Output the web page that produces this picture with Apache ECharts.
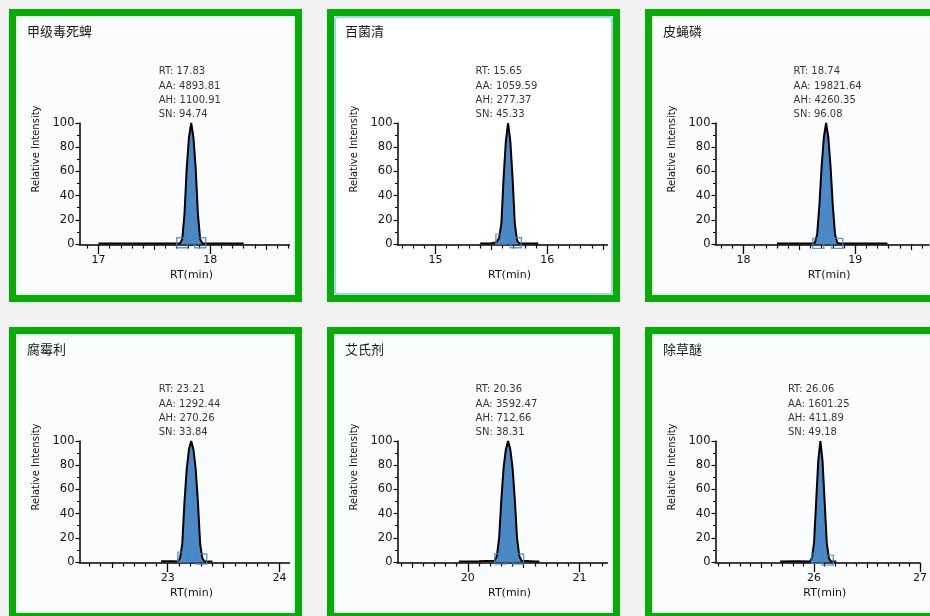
<!DOCTYPE html>
<html><head><meta charset="utf-8">
<script src="https://cdn.jsdelivr.net/npm/echarts@6/dist/echarts.min.js"></script>
<style>html,body{margin:0;padding:0;background:#f2f2f2}#c{width:930px;height:616px}</style>
</head><body><div id="c"></div>
<script>
// ---- data ----
const titles = ['甲级毒死蜱', '百菌清', '皮蝇磷', '腐霉利', '艾氏剂', '除草醚'];
const rtValues = [17.83, 15.65, 18.74, 23.21, 20.36, 26.06];
const aaValues = ['4893.81', '1059.59', '19821.64', '1292.44', '3592.47', '1601.25'];
const ahValues = ['1100.91', '277.37', '4260.35', '270.26', '712.66', '411.89'];
const snValues = ['94.74', '45.33', '96.08', '33.84', '38.31', '49.18'];
const xMin = [16.83, 14.66, 17.75, 22.21, 19.37, 25.07];
const xMax = [18.71, 16.54, 19.66, 24.09, 21.25, 27.0];
const majorTicks = [[17, 18], [15, 16], [18, 19], [23, 24], [20, 21], [26, 27]];
const yTickValues = [0, 20, 40, 60, 80, 100];

const trace1Times = [17.00, 17.40, 17.70, 17.73, 17.75, 17.77, 17.79, 17.81, 17.83, 17.85, 17.87, 17.89, 17.91, 17.93, 17.96, 18.10, 18.30];
const trace1Values = [0.4, 0.5, 0.4, 0.5, 4, 25, 63, 88, 100, 88, 63, 25, 4, 0.5, 0.5, 0.4, 0.4];
const trace2Times = [15.40, 15.50, 15.53, 15.55, 15.57, 15.59, 15.61, 15.63, 15.65, 15.67, 15.69, 15.71, 15.73, 15.75, 15.80, 15.92];
const trace2Values = [0.5, 0.6, 1, 2, 5, 17, 55, 85, 100, 85, 55, 17, 3, 0.5, 0.5, 0.5];
const trace3Times = [18.30, 18.50, 18.62, 18.64, 18.66, 18.68, 18.70, 18.72, 18.74, 18.76, 18.78, 18.80, 18.82, 18.84, 18.86, 19.00, 19.29];
const trace3Values = [0.4, 0.5, 0.5, 1, 8, 32, 64, 88, 100, 88, 64, 32, 8, 1, 0.5, 0.5, 0.4];
const trace4Times = [22.94, 23.05, 23.09, 23.11, 23.13, 23.15, 23.17, 23.19, 23.21, 23.23, 23.25, 23.27, 23.29, 23.31, 23.33, 23.40];
const trace4Values = [0.6, 0.6, 0.5, 3, 15, 50, 77, 93, 100, 93, 77, 50, 15, 3, 0.5, 0.5];
const trace5Times = [19.92, 20.10, 20.24, 20.26, 20.28, 20.30, 20.32, 20.34, 20.36, 20.38, 20.40, 20.42, 20.44, 20.46, 20.48, 20.60, 20.64];
const trace5Values = [0.5, 0.6, 1, 5, 20, 52, 78, 93, 100, 93, 78, 52, 20, 5, 1, 0.5, 0.5];
const trace6Times = [25.68, 25.85, 25.96, 25.98, 26.00, 26.02, 26.04, 26.06, 26.08, 26.10, 26.12, 26.14, 26.16, 26.21];
const trace6Values = [0.5, 0.6, 0.5, 3, 16, 50, 84, 100, 84, 50, 16, 3, 0.5, 0.5];

const bound1 = [[17.75, 1], [17.91, 1]];
const bound2 = [[15.59, 4], [15.72, 1]];
const bound3 = [[18.67, 0.5], [18.84, 0.5]];
const bound4 = [[23.14, 4], [23.30, 2.5]];
const bound5 = [[20.29, 2.5], [20.45, 2.5]];
const bound6 = [[26.03, 3], [26.13, 1.5]];

const traceTimes = [trace1Times, trace2Times, trace3Times, trace4Times, trace5Times, trace6Times];
const traceValues = [trace1Values, trace2Values, trace3Values, trace4Values, trace5Values, trace6Values];
const bounds = [bound1, bound2, bound3, bound4, bound5, bound6];

// ---- layout ----
const panelX = [9, 327, 645, 9, 327, 645];
const panelY = [9, 9, 9, 327, 327, 327];
const panelSize = 293;
const pxPerMin = 111.7;
const FONT = 'DejaVu Sans';
const TXT = '#111';

function ticksBetween(lo, hi, step, skipStep) {
  const out = [];
  const start = Math.ceil(lo / step - 1e-6);
  for (let k = start; k * step <= hi + 1e-6; k++) {
    const v = Math.round(k * step * 100) / 100;
    if (skipStep && Math.abs(v / skipStep - Math.round(v / skipStep)) < 1e-6) continue;
    out.push(v);
  }
  return out;
}

const grids = [], xAxes = [], yAxes = [], series = [], graphics = [];
for (let i = 0; i < 6; i++) {
  const x0 = panelX[i], y0 = panelY[i];
  graphics.push({ type: 'rect', z: -20, shape: { x: x0 + 3.5, y: y0 + 3.5, width: panelSize - 7, height: panelSize - 7 },
    style: { fill: 'none', stroke: '#03ad03', lineWidth: 7 } });
  if (i === 1) {
    graphics.push({ type: 'rect', z: -19, shape: { x: x0 + 8, y: y0 + 8, width: panelSize - 16, height: panelSize - 16, r: 3 },
      style: { fill: '#ffffff', stroke: '#a6cff2', lineWidth: 2 } });
  } else {
    graphics.push({ type: 'rect', z: -19, shape: { x: x0 + 8, y: y0 + 8, width: panelSize - 16, height: panelSize - 16 },
      style: { fill: '#fbfcfd', stroke: '#eceef2', lineWidth: 2 } });
  }
  graphics.push({ type: 'text', z: 10, x: x0 + 18, y: y0 + 22,
    style: { text: titles[i], fill: '#1a1a1a', font: '13px "Noto Sans CJK SC"', textVerticalAlign: 'middle' } });

  grids.push({ left: x0 + 70.5, top: y0 + 114, width: (xMax[i] - xMin[i]) * pxPerMin, height: 121 });

  const base = { gridIndex: i, type: 'value', position: 'bottom', min: xMin[i], max: xMax[i], offset: 1,
    splitLine: { show: false }, axisLabel: { show: false } };
  xAxes.push(Object.assign({}, base, {
    axisLine: { show: true, onZero: false, lineStyle: { color: '#000', width: 1.5 } },
    axisTick: { show: true, customValues: ticksBetween(xMin[i], xMax[i], 0.1, 0.5), length: 3.5, lineStyle: { color: '#000', width: 1.2 } }
  }));
  xAxes.push(Object.assign({}, base, {
    axisLine: { show: false },
    axisTick: { show: true, customValues: ticksBetween(xMin[i], xMax[i], 0.5, 1), length: 6, lineStyle: { color: '#000', width: 1.2 } }
  }));
  xAxes.push(Object.assign({}, base, {
    axisLine: { show: false },
    axisTick: { show: true, customValues: majorTicks[i], length: 9, lineStyle: { color: '#000', width: 1.3 } },
    axisLabel: { show: true, customValues: majorTicks[i], margin: 10, fontSize: 11, color: TXT, fontFamily: FONT, showMaxLabel: true },
    name: 'RT(min)', nameLocation: 'middle', nameGap: 25,
    nameTextStyle: { fontSize: 11, color: TXT, fontFamily: FONT, padding: [0, 0, 0, 14] }
  }));
  yAxes.push({ gridIndex: i, type: 'value', min: 0, max: 100, interval: 20,
    axisLine: { show: true, lineStyle: { color: '#000', width: 1.5 } },
    axisTick: { show: true, length: 4, lineStyle: { color: '#000', width: 1.2 } },
    minorTick: { show: true, splitNumber: 2, length: 2.5, lineStyle: { color: '#000', width: 1 } },
    axisLabel: { margin: 5, fontSize: 11.5, color: TXT, fontFamily: FONT, customValues: yTickValues },
    splitLine: { show: false },
    name: 'Relative Intensity', nameLocation: 'middle', nameGap: 38,
    nameTextStyle: { fontSize: 10, color: TXT, fontFamily: FONT, padding: [0, 0, 0, 69] }
  });

  const xIdx = i * 3;
  series.push({ type: 'line', xAxisIndex: xIdx, yAxisIndex: i, symbol: 'none', clip: false,
    data: traceTimes[i].map((t, k) => [t, traceValues[i][k]]),
    lineStyle: { color: '#000', width: 2 }, areaStyle: { color: '#4a89c6', opacity: 1 }, z: 3 });
  series.push({ type: 'scatter', xAxisIndex: xIdx, yAxisIndex: i, symbol: 'rect', symbolSize: [11, 10],
    data: bounds[i], itemStyle: { color: 'rgba(0,0,0,0)', borderColor: '#3f86c8', borderWidth: 1.4 }, z: 5, silent: true });
  series.push({ type: 'scatter', xAxisIndex: xIdx, yAxisIndex: i, symbolSize: 1,
    data: [[rtValues[i], 100]], itemStyle: { color: 'rgba(0,0,0,0)' }, z: 6,
    label: { show: true, position: [-32, -58], align: 'left', verticalAlign: 'top',
      fontSize: 10, lineHeight: 14.3, color: '#000', fontFamily: FONT,
      formatter: 'RT: ' + rtValues[i].toFixed(2) + '\nAA: ' + aaValues[i] + '\nAH: ' + ahValues[i] + '\nSN: ' + snValues[i] } });
}

const chart = echarts.init(document.getElementById('c'));
chart.setOption({
  backgroundColor: '#f2f2f2',
  animation: false,
  grid: grids, xAxis: xAxes, yAxis: yAxes, series: series, graphic: graphics
});
</script>
</body></html>
